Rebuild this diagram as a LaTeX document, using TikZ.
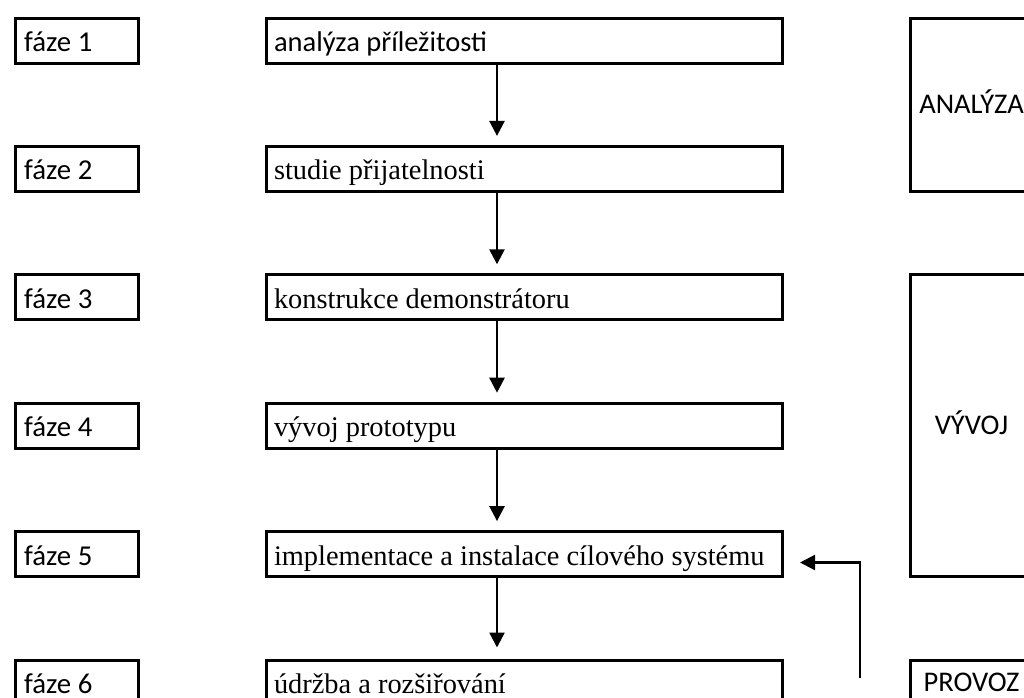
\documentclass[tikz,border=0pt]{standalone}
\usepackage{fontspec}
\setmainfont{Liberation Serif}
\newfontfamily\calfont{Carlito}
\usetikzlibrary{arrows.meta,calc}
\begin{document}
\begin{tikzpicture}[x=1pt,y=-1pt,
  box/.style={draw, line width=3pt, anchor=north west, inner ysep=0pt,
    align=flush left, text height=33.5pt, text depth=11.5pt},
  phase/.style={box, inner xsep=9pt, text width=105pt,
    font=\calfont\fontsize{28.8}{30}\selectfont},
  stepbox/.style={box, inner xsep=8pt, text width=500pt,
    font=\fontsize{28.4}{30}\selectfont},
  stage/.style={draw, line width=3pt, anchor=north west, inner sep=0pt,
    minimum width=123pt, text height=18pt, text depth=0pt,
    font=\calfont\fontsize{28.5}{30}\selectfont},
  arr/.style={line width=2.5pt, -{Triangle[width=15pt,length=15pt]}}
]
\clip (0,0) rectangle (1024,697);
\fill[white] (0,0) rectangle (1024,697);

% left phase boxes
\node[phase] (f1) at (13.7,16.5)  {fáze 1};
\node[phase] (f2) at (13.7,144.9) {fáze 2};
\node[phase] (f3) at (13.7,273.3) {fáze 3};
\node[phase] (f4) at (13.7,401.7) {fáze 4};
\node[phase] (f5) at (13.7,530.1) {fáze 5};
\node[phase] (f6) at (13.7,658.5) {fáze 6};

% middle step boxes
\node[stepbox, font=\calfont\fontsize{28.5}{30}\selectfont] (m1) at (264.5,16.5) {analýza příležitosti};
\node[stepbox] (m2) at (264.5,144.9) {studie přijatelnosti};
\node[stepbox] (m3) at (264.5,273.3) {konstrukce demonstrátoru};
\node[stepbox] (m4) at (264.5,401.7) {vývoj prototypu};
\node[stepbox] (m5) at (264.5,530.1) {implementace a instalace cílového systému};
\node[stepbox] (m6) at (264.5,658.5) {údržba a rozšiřování};

% right stage boxes
\node[stage, minimum height=173.4pt] (s1) at (908.5,16.5)  {ANALÝZA};
\node[stage, minimum height=301.8pt] (s2) at (908.5,273.3) {VÝVOJ};
\node[stage, minimum height=45pt]    (s3) at (908.5,658.5) {PROVOZ};

% vertical arrows
\coordinate (ax) at (497,0);
\draw[arr, shorten >=9pt] (m1.south -| ax) -- (m2.north -| ax);
\draw[arr, shorten >=9pt] (m2.south -| ax) -- (m3.north -| ax);
\draw[arr, shorten >=9pt] (m3.south -| ax) -- (m4.north -| ax);
\draw[arr, shorten >=9pt] (m4.south -| ax) -- (m5.north -| ax);
\draw[arr, shorten >=11pt] (m5.south -| ax) -- (m6.north -| ax);

% feedback arrow
\coordinate (fb) at (860,678);
\draw[arr, line width=2.3pt] (fb) |- ([xshift=16.5pt,yshift=-8.4pt]m5.east);
\end{tikzpicture}
\end{document}
